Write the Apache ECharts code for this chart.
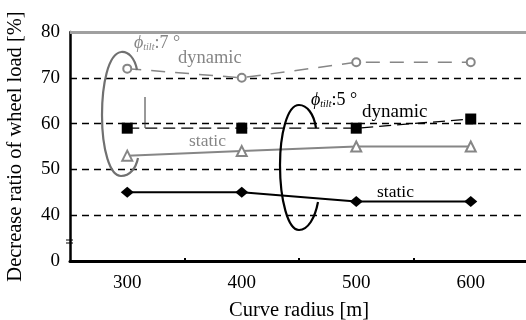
<!DOCTYPE html>
<html>
<head>
<meta charset="utf-8">
<script src="https://cdn.jsdelivr.net/npm/echarts@6/dist/echarts.min.js"></script>
<style>
  html, body { margin: 0; padding: 0; background: #fff; }
  #chart { width: 526px; height: 320px; }
</style>
</head>
<body>
<div id="chart"></div>
<script>
// Curve radius [m]
const radii = [300, 400, 500, 600];
// Axis categories (every 50 m, labels only at hundreds)
const xCategories = ['250', '300', '350', '400', '450', '500', '550', '600', '650'];
// Decrease ratio of wheel load [%]
const tilt7Dynamic = [72, 70, 73.4, 73.4];
const tilt7Static = [53, 54, 55, 55];
const tilt5Dynamic = [59, 59, 59, 61];
const tilt5Static = [45, 45, 43, 43];
// Y tick labels (axis is broken below 40, the bottom tick reads 0)
const yTickLabels = { 30: '0', 40: '40', 50: '50', 60: '60', 70: '70', 80: '80' };

const SERIF = '"Liberation Serif", "DejaVu Serif", serif';
const GRAY = '#868686';

const pairs = vals => radii.map((r, i) => [String(r), vals[i]]);

// Build a loop out of cubic segments: start point then [c1x,c1y,c2x,c2y,x,y] groups
function loop(start, segs, color) {
  const out = [];
  let p = start;
  segs.forEach(s => {
    out.push({
      type: 'bezierCurve', z: 10, silent: true,
      shape: { x1: p[0], y1: p[1], cpx1: s[0], cpy1: s[1], cpx2: s[2], cpy2: s[3], x2: s[4], y2: s[5] },
      style: { fill: null, stroke: color, lineWidth: 2.2 }
    });
    p = [s[4], s[5]];
  });
  return out;
}

const chart = echarts.init(document.getElementById('chart'));

chart.setOption({
  animation: false,
  grid: { left: 70, top: 32, right: -2, bottom: 59, containLabel: false, outerBoundsMode: 'none' },
  xAxis: {
    type: 'category',
    data: xCategories,
    boundaryGap: false,
    name: 'Curve radius [m]',
    nameLocation: 'middle',
    nameGap: 39,
    nameTextStyle: { fontFamily: SERIF, fontSize: 20.5, color: '#000' },
    axisLine: { lineStyle: { color: '#000', width: 3 } },
    axisTick: {
      show: true, inside: true, length: 3,
      interval: (i, v) => Number(v) % 100 === 50 && v !== '250' && v !== '650',
      lineStyle: { color: '#000', width: 2 }
    },
    axisLabel: {
      interval: (i, v) => Number(v) % 100 === 0,
      fontFamily: SERIF, fontSize: 19, color: '#000', margin: 13
    },
    splitLine: { show: false }
  },
  yAxis: {
    type: 'value',
    min: 30, max: 80, interval: 10,
    name: 'Decrease ratio of wheel load [%]',
    nameLocation: 'middle',
    nameGap: 44,
    nameTextStyle: { fontFamily: SERIF, fontSize: 20.5, color: '#000' },
    axisLine: { show: true, lineStyle: { color: '#000', width: 2.5 } },
    axisTick: { show: false },
    axisLabel: {
      formatter: v => yTickLabels[v] || '',
      fontFamily: SERIF, fontSize: 19, color: '#000', margin: 10
    },
    splitLine: {
      show: true,
      lineStyle: {
        color: ['rgba(0,0,0,0)', '#000', '#000', '#000', '#000', 'rgba(0,0,0,0)'],
        type: [7, 5], width: 1.3
      }
    }
  },
  series: [
    {
      name: 'tilt 7 dynamic',
      type: 'line',
      data: pairs(tilt7Dynamic),
      symbol: 'circle', symbolSize: 8,
      itemStyle: { color: '#fff', borderColor: GRAY, borderWidth: 2 },
      lineStyle: { color: GRAY, width: 1.5, type: [14, 10] },
      z: 3,
      markLine: {
        silent: true, symbol: 'none', label: { show: false },
        lineStyle: { color: '#a0a0a0', type: 'solid', width: 3 },
        data: [{ yAxis: 80 }]
      }
    },
    {
      name: 'tilt 7 static',
      type: 'line',
      data: pairs(tilt7Static),
      symbol: 'triangle', symbolSize: 10,
      itemStyle: { color: '#fff', borderColor: GRAY, borderWidth: 2 },
      lineStyle: { color: GRAY, width: 2, type: 'solid' },
      z: 3
    },
    {
      name: 'tilt 5 dynamic',
      type: 'line',
      data: pairs(tilt5Dynamic),
      symbol: 'rect', symbolSize: 11,
      itemStyle: { color: '#000' },
      lineStyle: { color: '#000', width: 1.3, type: [12, 6] },
      z: 4
    },
    {
      name: 'tilt 5 static',
      type: 'line',
      data: pairs(tilt5Static),
      symbol: 'diamond', symbolSize: [13, 11],
      itemStyle: { color: '#000' },
      lineStyle: { color: '#000', width: 2, type: 'solid' },
      z: 4
    }
  ],
  graphic: [
    // loop around the 7° group
    ...loop([137, 70], [
      [135, 58, 128, 51, 121, 52],
      [108, 54, 102, 85, 102, 115],
      [102, 150, 110, 176, 121, 176],
      [130, 176, 136, 168, 138, 158]
    ], '#707070'),
    // loop around the 5° group
    ...loop([316, 128], [
      [314, 114, 307, 105, 299, 105],
      [287, 105, 280, 135, 280, 165],
      [280, 200, 288, 230, 299, 230],
      [308, 230, 315, 218, 318, 202]
    ], '#000'),
    // thin leader stroke
    {
      type: 'line', z: 10, silent: true,
      shape: { x1: 145, y1: 97, x2: 145, y2: 128 },
      style: { stroke: '#333', lineWidth: 1 }
    },
    // axis break marks
    {
      type: 'line', z: 10, silent: true,
      shape: { x1: 66, y1: 240, x2: 73, y2: 240 },
      style: { stroke: '#000', lineWidth: 1 }
    },
    {
      type: 'line', z: 10, silent: true,
      shape: { x1: 66, y1: 243, x2: 73, y2: 243 },
      style: { stroke: '#000', lineWidth: 1 }
    },
    // annotations
    {
      type: 'text', z: 11, silent: true, left: 134, top: 34,
      style: {
        text: '{p|ϕ}{s|tilt}{n|:7 °}',
        rich: {
          p: { fontFamily: SERIF, fontStyle: 'italic', fontSize: 18, fill: GRAY },
          s: { fontFamily: SERIF, fontStyle: 'italic', fontSize: 10, fill: GRAY, padding: [8, 0, 0, 0] },
          n: { fontFamily: SERIF, fontSize: 18, fill: GRAY }
        }
      }
    },
    {
      type: 'text', z: 11, silent: true, left: 178, top: 49,
      style: { text: 'dynamic', fontFamily: SERIF, fontSize: 18.5, fill: GRAY }
    },
    {
      type: 'text', z: 11, silent: true, left: 189, top: 132,
      style: { text: 'static', fontFamily: SERIF, fontSize: 17.5, fill: GRAY }
    },
    {
      type: 'text', z: 11, silent: true, left: 311, top: 91,
      style: {
        text: '{p|ϕ}{s|tilt}{n|:5 °}',
        rich: {
          p: { fontFamily: SERIF, fontStyle: 'italic', fontSize: 18, fill: '#000' },
          s: { fontFamily: SERIF, fontStyle: 'italic', fontSize: 10, fill: '#000', padding: [8, 0, 0, 0] },
          n: { fontFamily: SERIF, fontSize: 18, fill: '#000' }
        }
      }
    },
    {
      type: 'text', z: 11, silent: true, left: 362, top: 103,
      style: { text: 'dynamic', fontFamily: SERIF, fontSize: 19, fill: '#000' }
    },
    {
      type: 'text', z: 11, silent: true, left: 377, top: 183,
      style: { text: 'static', fontFamily: SERIF, fontSize: 17.5, fill: '#000' }
    }
  ]
});
</script>
</body>
</html>
